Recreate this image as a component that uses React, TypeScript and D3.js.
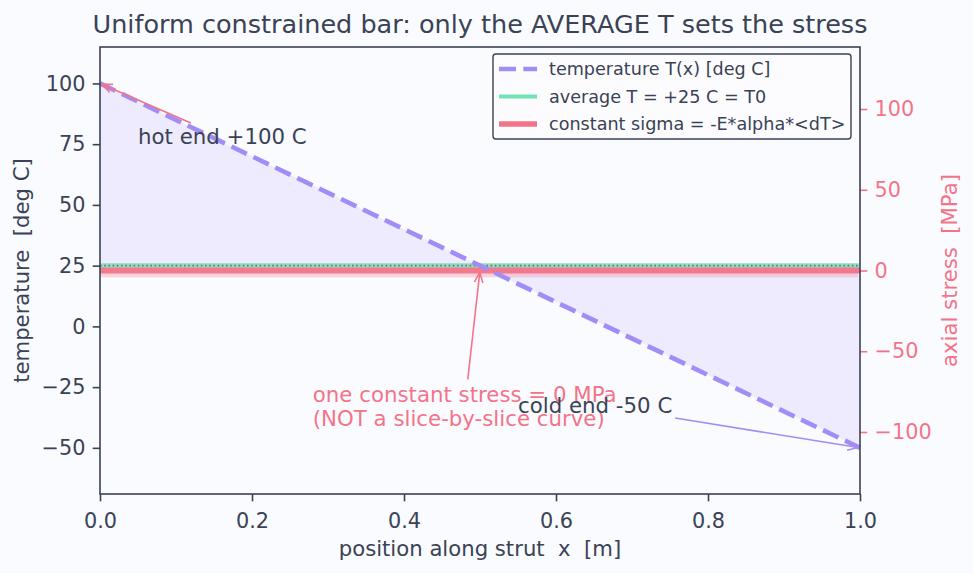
import React, { useEffect, useRef } from 'react';
import * as d3 from 'd3';

// strut geometry and temperature profile (end points of the linear T(x))
const positionM = [0, 1];
const temperatureC = [100, -50];
const averageTempC = 25;
const referenceTempC = 25;
const constantStressMPa = 0;
const stressBandMPa = [-4.3, 4.3];

const xTicks = [0, 0.2, 0.4, 0.6, 0.8, 1.0];
const tempTicks = [-50, -25, 0, 25, 50, 75, 100];
const stressTicks = [-100, -50, 0, 50, 100];

const legendItems = [
  { label: 'temperature T(x) [deg C]', kind: 'temp' },
  { label: 'average T = +25 C = T0', kind: 'avg' },
  { label: 'constant sigma = -E*alpha*<dT>', kind: 'sigma' },
];

const W = 973;
const H = 573;
const margin = { top: 47, right: 113, bottom: 79, left: 100 };

const INK = '#3a4255';
const PURPLE = '#a28cf6';
const GREEN = '#6fe3b4';
const RED = '#f37488';
const FONT = '"DejaVu Sans", sans-serif';
const TICK_FS = 20.8;
const LABEL_FS = 21.2;
const NOTE_FS = 21.3;
const DASH = '17,7.3';

export default function App() {
  const ref = useRef<SVGSVGElement>(null);

  useEffect(() => {
    const svg = d3.select(ref.current);
    svg.selectAll('*').remove();

    const x0 = margin.left;
    const x1 = W - margin.right;
    const y0 = margin.top;
    const y1 = H - margin.bottom;

    const x = d3.scaleLinear().domain([0, 1]).range([x0, x1]);
    const yT = d3.scaleLinear().domain([-69, 115]).range([y1, y0]);
    const yS = d3.scaleLinear().domain([-138.4, 138.4]).range([y1, y0]);

    svg.append('rect').attr('width', W).attr('height', H).attr('fill', '#fafbfe');

    const pts = positionM.map((p, i) => [p, temperatureC[i]] as [number, number]);

    // shaded area between T(x) and the average
    const area = d3.area<[number, number]>()
      .x(d => x(d[0]))
      .y0(yT(averageTempC))
      .y1(d => yT(d[1]));
    svg.append('path')
      .attr('d', area(pts))
      .attr('fill', PURPLE)
      .attr('fill-opacity', 0.14);

    // stress band, average line, stress line
    svg.append('rect')
      .attr('x', x(0))
      .attr('width', x(1) - x(0) - 2)
      .attr('y', yS(stressBandMPa[1]))
      .attr('height', yS(stressBandMPa[0]) - yS(stressBandMPa[1]))
      .attr('fill', RED)
      .attr('fill-opacity', 0.28);

    svg.append('line')
      .attr('x1', x(0)).attr('x2', x(1))
      .attr('y1', yT(averageTempC)).attr('y2', yT(averageTempC))
      .attr('stroke', GREEN).attr('stroke-width', 5).attr('stroke-opacity', 0.75);

    svg.append('line')
      .attr('x1', x(0)).attr('x2', x(1))
      .attr('y1', yS(constantStressMPa)).attr('y2', yS(constantStressMPa))
      .attr('stroke', RED).attr('stroke-width', 6).attr('stroke-opacity', 0.95);

    svg.append('line')
      .attr('x1', x(0)).attr('x2', x(1))
      .attr('y1', yT(referenceTempC)).attr('y2', yT(referenceTempC))
      .attr('stroke', '#5a6472').attr('stroke-width', 1.6)
      .attr('stroke-dasharray', '1.6,2.6').attr('stroke-opacity', 0.85);

    // temperature profile
    const line = d3.line<[number, number]>().x(d => x(d[0])).y(d => yT(d[1]));
    svg.append('path')
      .attr('d', line(pts))
      .attr('fill', 'none')
      .attr('stroke', PURPLE)
      .attr('stroke-width', 4.6)
      .attr('stroke-dasharray', DASH);

    // axes
    const gx = svg.append('g').attr('transform', `translate(0,${y1})`)
      .call(d3.axisBottom(x).tickValues(xTicks).tickFormat(d3.format('.1f')).tickSize(7.3).tickPadding(12));
    const gl = svg.append('g').attr('transform', `translate(${x0},0)`)
      .call(d3.axisLeft(yT).tickValues(tempTicks).tickSize(7.3).tickPadding(7.3));
    const gr = svg.append('g').attr('transform', `translate(${x1},0)`)
      .call(d3.axisRight(yS).tickValues(stressTicks).tickSize(7.3).tickPadding(7.3));

    [gx, gl, gr].forEach(g => {
      g.select('.domain').remove();
      g.selectAll('text').attr('font-family', FONT).attr('font-size', TICK_FS);
    });
    gx.selectAll('line').attr('stroke', INK).attr('stroke-width', 1.6);
    gx.selectAll('text').attr('fill', INK);
    gl.selectAll('line').attr('stroke', INK).attr('stroke-width', 1.6);
    gl.selectAll('text').attr('fill', INK);
    gr.selectAll('line').attr('stroke', RED).attr('stroke-width', 1.6);
    gr.selectAll('text').attr('fill', RED);
    svg.selectAll('.tick text').text(function () {
      return (d3.select(this).text() as string).replace('-', '\u2212');
    });

    // frame
    svg.append('rect')
      .attr('x', x0).attr('y', y0)
      .attr('width', x1 - x0).attr('height', y1 - y0)
      .attr('fill', 'none').attr('stroke', INK).attr('stroke-width', 1.6);

    // labels
    svg.append('text')
      .attr('x', (x0 + x1) / 2).attr('y', 33)
      .attr('text-anchor', 'middle')
      .attr('font-family', FONT).attr('font-size', 25.5).attr('fill', INK)
      .text('Uniform constrained bar: only the AVERAGE T sets the stress');

    svg.append('text')
      .attr('x', (x0 + x1) / 2).attr('y', 556)
      .attr('text-anchor', 'middle')
      .attr('font-family', FONT).attr('font-size', LABEL_FS).attr('fill', INK)
      .attr('xml:space', 'preserve')
      .text('position along strut  x  [m]');

    svg.append('text')
      .attr('transform', `translate(29,${(y0 + y1) / 2}) rotate(-90)`)
      .attr('text-anchor', 'middle')
      .attr('font-family', FONT).attr('font-size', LABEL_FS).attr('fill', INK)
      .attr('xml:space', 'preserve')
      .text('temperature  [deg C]');

    svg.append('text')
      .attr('transform', `translate(957,${(y0 + y1) / 2}) rotate(-90)`)
      .attr('text-anchor', 'middle')
      .attr('font-family', FONT).attr('font-size', LABEL_FS).attr('fill', RED)
      .attr('xml:space', 'preserve')
      .text('axial stress  [MPa]');

    // annotations with arrows from the text box edge to the target point
    const defs = svg.append('defs');
    const arrowHead = (id: string, color: string) => {
      defs.append('marker')
        .attr('id', id).attr('viewBox', '0 0 10 10')
        .attr('refX', 9.5).attr('refY', 5)
        .attr('markerWidth', 11).attr('markerHeight', 11)
        .attr('markerUnits', 'userSpaceOnUse')
        .attr('orient', 'auto')
        .append('path').attr('d', 'M0,1 L9.5,5 L0,9')
        .attr('fill', 'none').attr('stroke', color).attr('stroke-width', 1.4);
    };
    arrowHead('head-red', RED);
    arrowHead('head-purple', PURPLE);

    const annotate = (lines: string[], color: string, arrowColor: string, tx: number, ty: number,
      px: number, py: number, headId: string) => {
      const g = svg.append('g');
      const lh = 23.5;
      lines.forEach((s, i) => {
        g.append('text')
          .attr('x', tx).attr('y', ty - (lines.length - 1 - i) * lh)
          .attr('font-family', FONT).attr('font-size', NOTE_FS).attr('fill', color)
          .text(s);
      });
      const bb = (g.node() as SVGGElement).getBBox();
      const cx = bb.x + bb.width / 2;
      const cy = bb.y + bb.height / 2;
      const dx = px - cx;
      const dy = py - cy;
      const t = Math.min(Math.abs(bb.width / 2 / dx || Infinity), Math.abs(bb.height / 2 / dy || Infinity));
      const len = Math.hypot(dx, dy);
      const sx = cx + dx * t + (dx / len) * 3;
      const sy = cy + dy * t + (dy / len) * 3;
      const ex = px - (dx / len) * 2;
      const ey = py - (dy / len) * 2;
      svg.insert('line', 'g')
        .attr('x1', sx).attr('y1', sy).attr('x2', ex).attr('y2', ey)
        .attr('stroke', arrowColor).attr('stroke-width', 1.6)
        .attr('marker-end', `url(#${headId})`);
    };

    annotate(['hot end +100 C'], INK, RED, x(0.05), yT(75), x(0), yT(100), 'head-red');
    annotate(['one constant stress = 0 MPa', '(NOT a slice-by-slice curve)'], RED, RED,
      x(0.28), yT(-41), x(0.5), yS(constantStressMPa), 'head-red');
    annotate(['cold end -50 C'], INK, PURPLE, x(0.55), yT(-35.5), x(1), yT(-50), 'head-purple');

    // legend
    const lg = svg.append('g');
    const lx = 493;
    const ly = 54;
    lg.append('rect')
      .attr('x', lx).attr('y', ly).attr('width', 358).attr('height', 85)
      .attr('rx', 3).attr('fill', '#fcfcfe').attr('fill-opacity', 0.9)
      .attr('stroke', INK).attr('stroke-width', 1.4);
    legendItems.forEach((item, i) => {
      const cy = ly + 15 + i * 27.5;
      const ln = lg.append('line')
        .attr('x1', lx + 6).attr('x2', lx + 44)
        .attr('y1', cy).attr('y2', cy);
      if (item.kind === 'temp') {
        ln.attr('stroke', PURPLE).attr('stroke-width', 4.6).attr('stroke-dasharray', DASH);
      } else if (item.kind === 'avg') {
        ln.attr('stroke', GREEN).attr('stroke-width', 4.2);
      } else {
        ln.attr('stroke', RED).attr('stroke-width', 5.5);
      }
      lg.append('text')
        .attr('x', lx + 56).attr('y', cy + 6)
        .attr('font-family', FONT).attr('font-size', 17.6).attr('fill', INK)
        .text(item.label);
    });
  }, []);

  return (
    <svg ref={ref} width={W} height={H}
      style={{ position: 'absolute', left: 0, top: 0, display: 'block' }} />
  );
}
